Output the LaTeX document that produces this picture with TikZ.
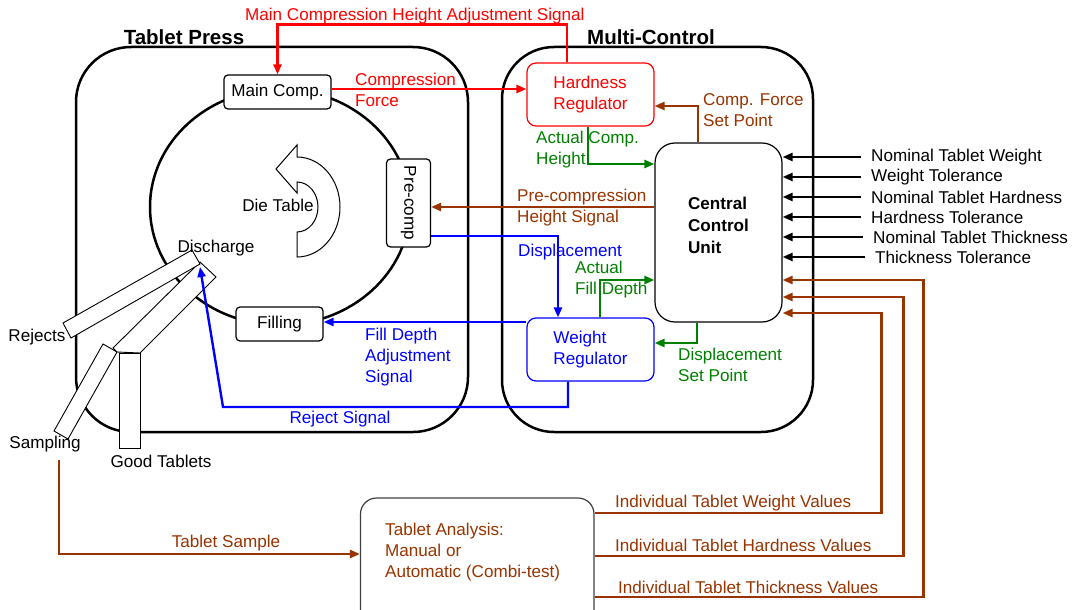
\documentclass[tikz,border=0pt]{standalone}
\usepackage{fontspec}
\setmainfont{Liberation Sans}
\usepackage{graphicx}
\usepackage{tikz}
\usetikzlibrary{arrows.meta}
\usetikzlibrary{positioning}
\definecolor{sigbrown}{RGB}{153,51,0}
\definecolor{siggreen}{RGB}{0,128,0}

\begin{document}
\begin{tikzpicture}[x=1pt,y=-1pt,font=\fontsize{17.1}{21}\selectfont]
  \tikzset{bigbox/.style = {draw,line width=2.5pt,rounded corners=55pt,minimum height=385pt}}
  \tikzset{title/.style = {font=\fontsize{20.5}{24}\selectfont\bfseries}}
  \tikzset{station/.style = {draw,fill=white,line width=1.2pt,rounded corners=4pt,inner sep=0pt}}
  \tikzset{regulator/.style = {draw,line width=1.2pt,rounded corners=9pt,align=left,minimum width=127pt,minimum height=63pt,inner sep=0pt}}
  \tikzset{lbl/.style = {inner sep=0pt,align=left,anchor=west}}
  \tikzset{sig/.style = {line width=2.4pt,-{Triangle[length=10pt,width=8pt]}}}
  \tikzset{chute/.style = {draw,fill=white,line width=0.9pt}}

  \useasboundingbox (0,0) rectangle (1072,610);

  % the two machines
  \node[bigbox,minimum width=392pt] (press) at (272,239.5) {};
  \node[title] (presstitle) at (184,37) {Tablet Press};
  \node[bigbox,rounded corners=52pt,minimum width=311pt] (multi) at (657.5,239.5) {};
  \node[title] (multititle) at (651,37) {Multi-Control};

  % die table with turning arrow
  \draw[line width=2.5pt] (280,207) ellipse [x radius=130, y radius=118];
  \draw[fill=white,line width=1pt] (297,182) arc[start angle=-90,end angle=90,x radius=21,y radius=25]
    -- (297,257) arc[start angle=90,end angle=-90,x radius=43,y radius=50]
    -- (297,145) -- (276,169) -- (297,193) -- cycle;
  \node (dietable) at (278,205) {Die Table};

  % discharge chutes
  \draw[chute] (200,262) -- (216,277) -- (140,353) -- (117,352) -- (113,348) -- cycle;
  \draw[chute] (63,323) -- (71,338) -- (200,264) -- (192,250) -- cycle;
  \draw[chute] (103,344) -- (117,352) -- (68,439) -- (54,431) -- cycle;
  \draw[chute] (119,353) rectangle (140,448);
  \coordinate (discharge) at (200,267);
  \coordinate (rejbend) at (223,407);
  \node (dischargelbl) at (216,248) {Discharge};
  \node (rejects) at (37,337) {Rejects};
  \node[inner sep=0pt] (sampling) at (45,444) {Sampling};
  \node (goodtabs) at (161,461) {Good Tablets};

  \node[station,minimum width=107pt,minimum height=34pt] (maincomp) at (277.5,92) {Main Comp.};
  \node[station,minimum width=87pt,minimum height=34pt] (filling) at (279.5,324) {Filling};
  \node[station,minimum width=44pt,minimum height=88pt] (precomp) at (408.5,203) {\rotatebox{-90}{Pre-comp}};

  \node[regulator,draw=red,text=red] (hardreg) at (590.5,94.5) {Hardness\\Regulator};
  \node[regulator,draw=blue,text=blue] (weightreg) at (590.5,349.5) {Weight\\Regulator};
  \node[draw,line width=1.2pt,rounded corners=20pt,minimum width=127pt,minimum height=179pt,
        font=\fontsize{17.1}{22}\selectfont\bfseries] (central) at (718.5,232.5)
        {\raisebox{0pt}[\height][\dimexpr\depth+10pt\relax]{\begin{tabular}{@{}l@{}}Central\\Control\\Unit\end{tabular}}};

  \node[draw=black!75,line width=1.2pt,rounded corners=16pt,minimum width=233.5pt,minimum height=142pt] (analysis) at (477.25,569) {};
  \node[lbl,text=sigbrown] (analysistxt) at (385,552) {Tablet Analysis:\\Manual or\\Automatic (Combi-test)};

  % signals
  \draw[sig,red] ([xshift=-23.5pt]hardreg.north) -- ++(0,-38) -| (maincomp.north);
  \draw[sig,red] ([yshift=3pt]maincomp.east) -- ([yshift=5.5pt]hardreg.west);
  \draw[sig,sigbrown] ([xshift=-20.5pt]central.north) |- ([yshift=-11.5pt]hardreg.east);
  \draw[sig,siggreen] ([xshift=-2.5pt]hardreg.south) |- ([yshift=68.5pt]central.west);
  \draw[sig,sigbrown] ([yshift=25.5pt]central.west) -- ([yshift=-4pt]precomp.east);
  \draw[sig,blue] ([yshift=-33pt]precomp.east) -| ([xshift=-32.5pt]weightreg.north);
  \draw[sig,siggreen] ([xshift=9.5pt]weightreg.north) |- ([yshift=-47.5pt]central.west);
  \draw[sig,siggreen] ([xshift=-21.5pt]central.south) |- ([yshift=6.5pt]weightreg.east);
  \draw[sig,blue] ([yshift=27.5pt]weightreg.west) -- ([yshift=2pt]filling.east);
  \draw[sig,blue] ([xshift=-22.5pt]weightreg.south) |- (rejbend) -- (discharge);
  \draw[sig,sigbrown] ([xshift=14pt,yshift=-8pt]sampling.south) |- ([yshift=15pt]analysis.west);

  \foreach \ys/\run/\ye in {56/287/-80.5, 13/309/-64.5, -28/329/-47.5}
    \draw[sig,sigbrown] ([yshift=\ys pt]analysis.east) -- ++(\run,0) |- ([yshift=\ye pt]central.east);

  \foreach \n/\xx/\yy/\txt in {1/871/157/Nominal Tablet Weight, 2/871/177/Weight Tolerance,
      3/871/197/Nominal Tablet Hardness, 4/871/217/Hardness Tolerance,
      5/873/237/Nominal Tablet Thickness, 6/875/257/Thickness Tolerance}
  {
    \node[lbl] (in\n) at (\xx,\yy) {\txt};
    \draw[sig] ([xshift=-10pt]in\n.west) -- (in\n.west -| central.east);
  }

  % signal labels
  \node[lbl,text=red] (mainsiglbl) at (245,16) {Main Compression Height Adjustment Signal};
  \node[lbl,text=red] (compforcelbl) at (355,89.5) {Compression\\Force};
  \node[lbl,text=sigbrown] (setpointlbl) at (703,110.5) {Comp. Force\\Set Point};
  \node[lbl,text=siggreen] (actheightlbl) at (536,150) {Actual Comp.\\Height};
  \node[lbl,text=sigbrown] (precomplbl) at (517,208) {Pre-compression\\Height Signal};
  \node[lbl,text=blue] (displbl) at (518,252) {Displacement};
  \node[lbl,text=siggreen] (actfilllbl) at (575,280) {Actual\\Fill Depth};
  \node[lbl,text=siggreen] (dispsetlbl) at (678,364.5) {Displacement\\Set Point};
  \node[lbl,text=blue] (filldepthlbl) at (365,357) {Fill Depth\\Adjustment\\Signal};
  \node[lbl,text=blue,anchor=center] (rejectlbl) at (340,419) {Reject Signal};
  \node[lbl,text=sigbrown] (fbweightlbl) at (615,503) {Individual Tablet Weight Values};
  \node[lbl,text=sigbrown] (fbhardlbl) at (615,545) {Individual Tablet Hardness Values};
  \node[lbl,text=sigbrown] (fbthicklbl) at (618,587) {Individual Tablet Thickness Values};
  \node[lbl,text=sigbrown,anchor=center] (samplelbl) at (226,543) {Tablet Sample};
\end{tikzpicture}
\end{document}
